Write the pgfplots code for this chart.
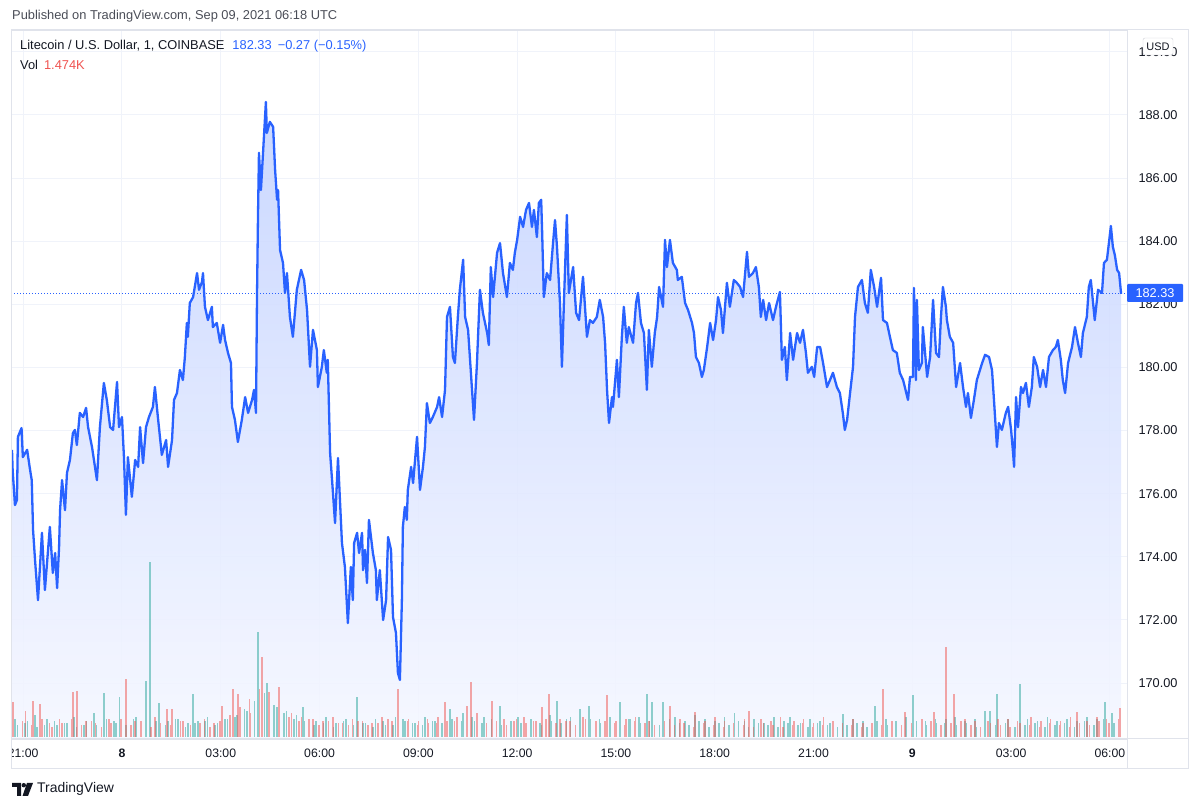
\documentclass[border=0pt]{standalone}
\usepackage{fontspec}
\setmainfont{Liberation Sans}
\usepackage{pgfplots}
\usepackage{pgfplotstable}
\pgfplotsset{compat=1.18}

\definecolor{tvblue}{HTML}{2962FF}
\definecolor{tvgrid}{HTML}{F0F3FA}
\definecolor{tvframe}{HTML}{E0E3EB}
\definecolor{tvtext}{HTML}{131722}
\definecolor{tvgray}{HTML}{4A4D57}
\definecolor{tvgreen}{HTML}{26A69A}
\definecolor{tvred}{HTML}{EF5350}
\definecolor{filltop}{RGB}{196,211,255}
\definecolor{fillbot}{RGB}{245,247,255}

% t = hours since 21:00 on Sep 7, p = LTC/USD
\pgfplotstableread{
t p
-0.34 177.39
-0.32 176.75
-0.25 175.64
-0.19 175.80
-0.16 177.80
-0.05 178.08
-0.01 177.16
0.12 177.39
0.21 176.75
0.26 176.43
0.30 174.85
0.36 173.90
0.45 172.63
0.57 174.76
0.66 172.95
0.81 174.95
0.90 173.49
0.97 174.12
1.03 173.01
1.09 174.31
1.12 175.48
1.18 176.43
1.27 175.48
1.33 176.66
1.42 177.07
1.51 177.92
1.57 178.02
1.63 177.54
1.72 178.56
1.82 178.43
1.91 178.72
1.97 178.11
2.09 177.48
2.18 176.85
2.24 176.43
2.33 178.11
2.45 179.51
2.54 178.97
2.64 178.11
2.73 178.02
2.85 179.54
2.91 178.11
3.00 178.43
3.06 177.16
3.12 175.33
3.18 177.16
3.30 175.90
3.40 177.07
3.49 176.85
3.55 178.11
3.64 176.97
3.73 178.11
3.82 178.43
3.94 178.75
4.00 179.38
4.09 178.43
4.21 177.23
4.34 177.70
4.40 176.85
4.52 177.70
4.58 178.97
4.67 179.19
4.76 179.92
4.85 179.60
4.91 180.33
4.97 181.41
5.00 180.97
5.06 182.04
5.16 182.23
5.28 182.99
5.34 182.46
5.43 182.71
5.46 182.99
5.52 181.92
5.61 181.50
5.73 181.92
5.76 181.28
5.88 181.41
5.98 180.78
6.07 181.35
6.13 180.87
6.22 180.46
6.31 180.14
6.34 178.75
6.43 178.34
6.52 177.64
6.64 178.34
6.74 179.06
6.83 178.56
6.95 178.97
7.01 179.29
7.07 178.56
7.10 182.23
7.13 184.77
7.16 186.80
7.22 185.62
7.28 186.73
7.37 188.41
7.40 187.43
7.49 187.78
7.59 187.62
7.65 186.26
7.71 185.31
7.74 185.62
7.80 183.72
7.89 183.31
7.95 182.36
8.01 182.99
8.10 181.60
8.19 180.97
8.31 182.46
8.44 183.09
8.53 182.77
8.62 181.82
8.71 180.02
8.80 181.19
8.92 180.55
8.95 179.38
9.07 180.02
9.13 180.55
9.22 179.83
9.25 180.24
9.32 177.29
9.38 176.43
9.47 175.07
9.56 177.13
9.68 174.44
9.77 173.68
9.86 171.90
9.95 173.68
10.01 172.63
10.05 174.44
10.14 174.76
10.20 174.12
10.29 174.76
10.32 173.58
10.38 174.22
10.44 173.17
10.50 175.17
10.62 174.12
10.71 173.58
10.74 172.63
10.83 173.58
10.93 172.00
11.02 172.63
11.08 174.63
11.17 174.22
11.23 172.09
11.32 171.59
11.38 170.32
11.44 170.10
11.50 172.63
11.53 174.95
11.59 175.58
11.65 175.17
11.68 176.12
11.78 176.85
11.84 176.34
11.96 177.80
12.05 176.12
12.14 176.85
12.20 177.48
12.26 178.87
12.35 178.24
12.44 178.43
12.57 178.75
12.63 179.06
12.72 178.43
12.81 179.29
12.87 181.60
12.96 181.92
13.05 180.33
13.11 180.14
13.20 181.60
13.26 182.46
13.36 183.41
13.42 181.60
13.51 181.19
13.63 179.29
13.69 178.34
13.78 180.14
13.87 182.46
13.96 181.73
14.09 181.09
14.14 180.71
14.20 183.18
14.27 182.23
14.39 183.63
14.48 183.94
14.57 182.99
14.69 182.23
14.78 183.31
14.87 183.09
14.93 183.63
15.00 184.04
15.09 184.77
15.18 184.45
15.27 184.99
15.36 185.21
15.45 184.45
15.51 184.99
15.60 184.13
15.66 185.21
15.73 185.31
15.76 184.26
15.81 182.23
15.90 182.99
16.00 182.77
16.09 183.94
16.15 184.67
16.21 183.82
16.30 182.04
16.36 180.02
16.42 182.04
16.51 184.83
16.57 182.36
16.67 182.99
16.70 183.18
16.79 181.73
16.88 181.50
17.00 182.87
17.06 181.92
17.12 180.97
17.21 181.50
17.30 181.41
17.42 181.60
17.51 182.14
17.61 181.60
17.67 180.78
17.73 179.29
17.79 178.24
17.88 179.06
17.91 178.75
18.03 180.24
18.09 179.06
18.18 180.97
18.24 181.92
18.33 180.78
18.39 181.28
18.52 180.78
18.61 182.04
18.67 182.36
18.76 181.41
18.85 181.09
18.94 179.29
19.00 181.19
19.09 180.02
19.18 181.09
19.25 181.60
19.31 182.55
19.43 181.92
19.49 184.04
19.55 183.18
19.64 184.04
19.73 183.31
19.85 183.09
19.88 182.77
20.00 182.87
20.10 182.04
20.19 181.82
20.31 181.41
20.37 181.09
20.43 180.33
20.52 180.14
20.61 179.70
20.67 179.92
20.77 180.65
20.86 181.41
20.95 180.87
21.04 181.50
21.10 182.23
21.19 181.82
21.25 181.09
21.37 182.68
21.46 181.92
21.58 182.77
21.67 182.68
21.77 182.55
21.86 182.23
21.98 183.66
22.04 182.87
22.16 182.99
22.25 183.18
22.34 182.55
22.40 181.60
22.47 182.14
22.56 181.50
22.65 182.04
22.77 181.50
22.86 181.92
22.98 182.39
23.04 180.24
23.13 180.65
23.19 179.60
23.29 181.09
23.38 180.24
23.50 181.09
23.59 180.78
23.68 181.19
23.77 180.46
23.83 179.83
23.95 180.02
24.02 179.70
24.11 180.65
24.20 180.65
24.29 180.14
24.41 179.38
24.50 179.60
24.59 179.83
24.71 179.38
24.80 179.19
24.89 178.56
24.95 178.02
25.02 178.34
25.11 179.19
25.20 180.02
25.26 181.60
25.35 182.55
25.47 182.77
25.56 182.04
25.65 181.73
25.74 183.09
25.84 182.55
25.93 181.92
26.05 182.84
26.11 181.50
26.23 181.41
26.32 180.97
26.41 180.55
26.53 180.46
26.62 179.83
26.72 179.60
26.87 178.97
26.93 179.70
27.02 179.70
27.05 182.52
27.11 179.60
27.14 182.14
27.20 179.92
27.29 180.14
27.32 181.28
27.45 179.70
27.54 180.33
27.63 182.14
27.72 180.46
27.81 180.33
27.87 181.60
27.93 182.55
28.02 181.92
28.05 181.50
28.14 180.97
28.24 180.78
28.33 179.38
28.45 180.14
28.54 179.38
28.63 178.75
28.69 179.19
28.78 178.40
28.87 178.97
28.96 179.60
29.12 180.14
29.21 180.40
29.33 180.33
29.42 179.92
29.48 178.97
29.57 177.48
29.63 178.24
29.72 178.02
29.84 178.56
29.91 178.75
30.00 178.02
30.06 177.29
30.09 176.85
30.15 179.06
30.21 178.11
30.30 179.38
30.36 179.19
30.45 179.51
30.54 178.75
30.63 179.38
30.69 180.33
30.79 180.02
30.88 179.38
30.97 179.92
31.06 179.38
31.15 180.33
31.27 180.55
31.36 180.65
31.42 180.87
31.51 180.24
31.57 179.60
31.64 179.19
31.73 180.14
31.85 180.65
31.94 181.28
32.03 180.78
32.12 180.33
32.18 181.09
32.30 181.60
32.36 182.55
32.42 182.77
32.48 182.14
32.54 181.50
32.64 182.46
32.76 182.36
32.82 183.31
32.91 183.41
32.97 183.94
33.03 184.48
33.09 183.82
33.15 183.56
33.22 183.09
33.28 182.99
33.34 182.33
}\price

% volume in thousands, up candles
\pgfplotstableread{
t v
-0.25 0.9
0.05 0.7
0.35 1.1
0.65 0.6
0.95 0.8
1.25 0.7
1.55 1.0
1.85 0.6
2.15 1.2
2.45 2.2
2.75 0.8
2.92 2.0
3.35 0.9
3.73 2.8
3.85 8.75
4.12 1.7
4.40 0.8
4.70 0.9
5.00 0.7
5.16 2.15
5.30 0.8
5.60 1.0
5.90 0.7
6.20 0.9
6.50 1.1
6.80 1.3
7.13 5.25
7.40 2.7
7.70 1.5
8.00 1.3
8.30 1.1
8.50 1.5
8.90 0.8
9.20 1.0
9.50 0.7
9.80 0.9
10.14 2.0
10.40 0.7
10.70 0.9
11.00 0.6
11.30 1.0
11.60 0.8
11.90 0.7
12.20 1.0
12.50 0.8
12.96 1.4
13.36 1.2
13.70 0.8
14.00 1.0
14.48 1.55
14.80 0.8
15.02 1.0
15.40 0.9
15.70 0.7
16.00 1.1
16.21 1.8
16.50 0.9
16.91 1.4
17.18 1.55
17.50 0.9
17.80 0.8
18.12 1.75
18.40 0.9
18.70 1.0
18.94 2.15
19.10 1.75
19.43 1.75
19.80 1.0
20.10 0.8
20.40 1.1
20.70 0.9
21.00 0.8
21.30 1.0
21.60 1.2
21.90 0.8
22.20 0.9
22.50 0.7
22.80 1.0
23.10 0.8
23.28 1.0
23.60 0.7
23.90 0.9
24.20 0.8
24.50 0.7
24.90 1.15
25.20 0.9
25.50 0.8
25.87 1.55
26.20 0.9
26.50 0.8
26.80 1.0
27.02 2.1
27.40 0.8
27.70 0.9
28.00 0.7
28.30 1.0
28.60 0.8
28.90 0.9
29.21 1.3
29.36 1.3
29.57 2.15
29.90 0.9
30.27 2.65
30.50 0.9
30.80 0.8
31.10 1.0
31.40 0.8
31.70 0.9
32.00 0.8
32.30 1.0
32.60 0.9
32.85 1.75
33.07 1.2
-0.175 0.6
0.125 0.8
0.425 0.5
0.725 0.9
1.025 0.6
1.325 0.7
1.625 0.5
1.925 0.8
2.225 0.6
2.525 0.9
2.825 0.7
3.125 0.6
3.425 1.0
3.725 0.7
4.025 0.8
4.325 0.6
4.625 0.9
4.925 0.5
5.225 0.7
5.525 0.8
5.825 0.6
6.125 0.9
6.425 1.0
6.725 1.4
7.025 1.8
7.325 2.2
7.625 1.6
7.925 1.2
8.225 0.9
8.525 0.8
8.825 0.6
9.125 0.7
9.425 0.5
9.725 0.8
10.025 0.6
10.325 0.7
10.625 0.5
10.925 0.8
11.225 0.6
11.525 0.9
11.825 0.7
12.125 0.6
12.425 0.8
12.725 0.7
13.025 0.9
13.325 0.8
13.625 1.0
13.925 0.7
14.225 0.9
14.525 0.6
14.825 0.8
15.125 0.7
15.425 0.9
15.725 0.6
16.025 0.8
16.325 0.7
16.625 1.0
16.925 0.8
17.225 0.9
17.525 0.7
17.825 1.0
18.125 0.8
18.425 0.9
18.725 0.7
19.025 0.8
19.325 0.6
19.625 0.9
19.925 0.7
20.225 0.6
20.525 0.8
20.825 0.5
21.125 0.7
21.425 0.6
21.725 0.8
22.025 0.5
22.325 0.7
22.625 0.6
22.925 0.5
23.225 0.7
23.525 0.6
23.825 0.5
24.125 0.7
24.425 0.6
24.725 0.5
25.025 0.6
25.325 0.7
25.625 0.5
25.925 0.8
26.225 0.6
26.525 0.7
26.825 0.5
27.125 0.8
27.425 0.6
27.725 0.7
28.025 0.9
28.325 0.6
28.625 0.7
28.925 0.5
29.225 0.8
29.525 0.6
29.825 0.7
30.125 0.5
30.425 0.6
30.725 0.7
31.025 0.5
31.325 0.6
31.625 0.7
31.925 0.5
32.225 0.8
32.525 0.6
32.825 0.9
33.125 0.7
}\volup

% volume in thousands, down candles
\pgfplotstableread{
t v
-0.31 1.75
0.07 1.3
0.30 1.8
0.51 1.65
0.80 0.7
1.10 0.9
1.51 2.25
1.63 2.3
1.90 0.8
2.20 0.7
2.60 0.9
3.12 2.9
3.40 0.8
4.00 1.0
4.37 1.4
4.52 1.4
4.85 0.8
5.50 0.9
5.80 0.7
6.04 1.55
6.37 2.4
6.52 2.15
6.90 1.2
7.25 4.0
7.46 2.25
7.77 2.5
8.15 1.2
8.45 1.0
8.80 0.9
9.10 0.8
9.40 1.0
9.70 0.7
10.00 0.9
10.30 0.8
10.60 0.7
10.90 1.0
11.20 0.8
11.38 2.4
11.70 0.9
12.00 0.8
12.30 0.7
12.60 1.0
12.81 1.75
13.10 0.8
13.48 1.55
13.60 2.75
13.78 1.2
14.24 1.8
14.60 0.9
14.90 0.8
15.20 1.0
15.50 0.8
15.75 1.5
15.97 2.15
16.30 0.9
16.60 0.8
17.00 1.0
17.40 0.8
17.73 2.1
18.00 0.8
18.30 0.9
18.60 1.0
19.00 0.8
19.64 1.55
19.95 0.9
20.40 1.25
20.70 0.8
21.00 1.0
21.30 0.8
21.90 0.9
22.04 1.3
22.40 0.9
22.70 0.8
23.00 1.0
23.40 0.8
23.70 0.9
24.00 0.7
24.30 1.0
24.60 0.8
25.20 0.9
25.50 0.7
26.11 2.4
26.40 0.8
26.78 1.25
27.30 0.9
27.66 1.25
28.02 4.5
28.26 2.15
28.60 0.9
28.90 0.8
29.30 0.8
29.60 0.9
29.90 0.9
30.20 0.8
30.60 1.0
30.90 0.8
31.20 0.9
31.50 0.8
31.80 1.0
32.00 1.25
32.30 0.8
32.60 1.0
32.90 0.9
33.30 1.45
-0.025 0.8
0.275 0.6
0.575 0.9
0.875 0.5
1.175 0.7
1.475 0.9
1.775 0.6
2.075 0.8
2.375 0.5
2.675 0.7
2.975 0.9
3.275 0.6
3.575 0.8
3.875 0.5
4.175 0.7
4.475 0.6
4.775 0.8
5.075 0.6
5.375 0.7
5.675 0.5
5.975 0.8
6.275 1.1
6.575 1.5
6.875 1.9
7.175 2.4
7.475 1.8
7.775 1.4
8.075 1.0
8.375 0.8
8.675 0.9
8.975 0.6
9.275 0.8
9.575 0.7
9.875 0.6
10.175 0.8
10.475 0.6
10.775 0.7
11.075 0.9
11.375 0.7
11.675 0.8
11.975 0.6
12.275 0.9
12.575 0.7
12.875 0.8
13.175 1.0
13.475 0.8
13.775 0.9
14.075 0.7
14.375 0.8
14.675 0.6
14.975 0.9
15.275 0.7
15.575 0.8
15.875 0.9
16.175 0.7
16.475 0.8
16.775 0.6
17.075 0.9
17.375 0.7
17.675 0.8
17.975 0.7
18.275 0.6
18.575 0.8
18.875 0.7
19.175 0.6
19.475 0.8
19.775 0.6
20.075 0.7
20.375 0.5
20.675 0.7
20.975 0.6
21.275 0.5
21.575 0.7
21.875 0.6
22.175 0.5
22.475 0.7
22.775 0.6
23.075 0.5
23.375 0.6
23.675 0.7
23.975 0.5
24.275 0.6
24.575 0.5
24.875 0.7
25.175 0.6
25.475 0.5
25.775 0.7
26.075 0.6
26.375 0.8
26.675 0.6
26.975 0.7
27.275 0.5
27.575 0.8
27.875 0.6
28.175 0.7
28.475 0.8
28.775 0.6
29.075 0.5
29.375 0.7
29.675 0.6
29.975 0.5
30.275 0.7
30.575 0.6
30.875 0.5
31.175 0.7
31.475 0.6
31.775 0.5
32.075 0.7
32.375 0.6
32.675 0.8
32.975 0.7
33.275 0.9
}\voldown

\begin{document}
\begin{tikzpicture}[x=1bp,y=1bp]
\useasboundingbox (0,0) rectangle (1200,808);

\begin{axis}[
    at={(11bp,69bp)}, anchor=south west,
    scale only axis, width=1116bp, height=709bp,
    xmin=-0.37, xmax=33.52,
    ymin=168.23, ymax=190.69,
    axis line style={draw=tvframe},
    grid=major,
    grid style={draw=tvgrid, line width=1bp},
    major tick length=0pt,
    xtick={0,3,...,33},
    xticklabels={21:00,\textbf{8},03:00,06:00,09:00,12:00,15:00,18:00,21:00,\textbf{9},03:00,06:00},
    ytick={170,172,...,190},
    yticklabel pos=right,
    xticklabel style={font=\fontsize{12.3}{14}\selectfont, text=tvtext, yshift=-6bp},
    yticklabel style={font=\fontsize{12.8}{14}\selectfont, text=tvtext, anchor=west, xshift=8bp},
    y tick label style={/pgf/number format/.cd, fixed, fixed zerofill, precision=2, assume math mode=true},
]
\addplot[draw=none, top color=filltop, bottom color=fillbot, fill opacity=0.9]
    table[x=t, y=p] {\price} -- (axis cs:33.34,168.23) -- (axis cs:-0.34,168.23) -- cycle;
\addplot[tvblue, line width=0.8bp, dash pattern=on 1bp off 2bp]
    coordinates {(-0.37,182.33) (33.52,182.33)};
\addplot[tvblue, line width=2.3bp, line join=round] table[x=t, y=p] {\price};
\end{axis}

\begin{axis}[
    at={(11bp,69bp)}, anchor=south west,
    scale only axis, width=1116bp, height=709bp,
    xmin=-0.37, xmax=33.52,
    ymin=-0.1, ymax=35.35,
    hide axis,
]
\addplot[ycomb, mark=none, draw=tvgreen, draw opacity=0.5, line width=1.6bp] table[x=t, y=v] {\volup};
\addplot[ycomb, mark=none, draw=tvred, draw opacity=0.5, line width=1.6bp] table[x=t, y=v] {\voldown};
\end{axis}

% frame and separators
\fill[white] (0,40) rectangle (10.5,68);
\draw[tvframe, line width=1bp] (11,39) rectangle (1188,778);
\draw[tvframe, line width=1bp] (11,69) -- (1188,69);
\draw[tvframe, line width=1bp] (1127,39) -- (1127,778);

% last price label
\fill[tvblue, rounded corners=1bp] (1127,506) rectangle (1183,524);
\node[text=white, font=\fontsize{12.8}{14}\selectfont, inner sep=0] at (1155,515) {182.33};

% currency box
\draw[fill=white, draw=tvframe!80!gray, rounded corners=2bp] (1143,753) rectangle (1173,770);
\node[text=tvtext, font=\fontsize{11}{13}\selectfont, inner sep=0] at (1158,761.5) {USD};

% header and legend
\node[anchor=west, inner sep=0, text=tvgray, font=\fontsize{12.9}{15}\selectfont] at (12,792)
    {Published on TradingView.com, Sep 09, 2021 06:18 UTC};
\node[anchor=west, inner sep=0, text=tvtext, font=\fontsize{12.9}{15}\selectfont] at (20,762)
    {Litecoin / U.S. Dollar, 1, COINBASE\hspace{8bp}\textcolor{tvblue}{182.33\hspace{6bp}−0.27 (−0.15\%)}};
\node[anchor=west, inner sep=0, text=tvtext, font=\fontsize{12.9}{15}\selectfont] at (20,743)
    {Vol\hspace{6bp}\textcolor{tvred}{1.474K}};

% footer logo
\fill[tvtext] (12,25) -- (21,25) -- (21,12) -- (17,12) -- (17,21) -- (12,21) -- cycle;
\fill[tvtext] (23.8,22.8) circle (2.2);
\fill[tvtext] (27,25) -- (33,25) -- (28,12) -- (22.5,12) -- cycle;
\node[anchor=west, inner sep=0, text=tvtext, font=\fontsize{14}{16}\selectfont] at (37,19) {TradingView};
\end{tikzpicture}
\end{document}
